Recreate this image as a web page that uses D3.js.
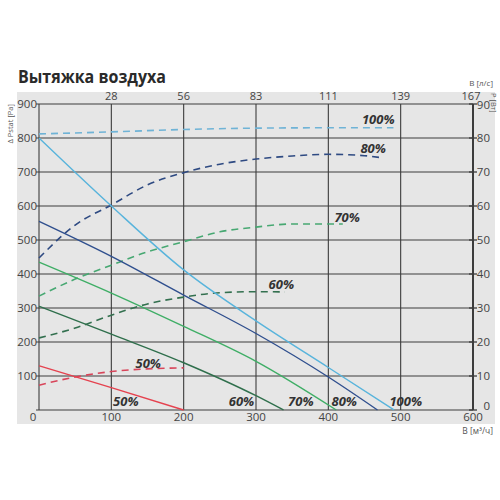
<!DOCTYPE html>
<html><head><meta charset="utf-8">
<script src="https://cdn.jsdelivr.net/npm/d3@7"></script>
<style>
body{margin:0;background:#fff;}
text{font-family:"Open Sans","DejaVu Sans",sans-serif;}
</style></head>
<body><svg id="c" width="500" height="500"></svg>
<script>
// ---- data ----
const title = "Вытяжка воздуха";
const flowTicks = [0,100,200,300,400,500,600];          // м³/ч
const topTickLabels = ["28","56","83","111","139","167"]; // л/с
const pressureTicks = [0,100,200,300,400,500,600,700,800,900];
const powerTicks = [0,10,20,30,40,50,60,70,80,90];

// pressure curves (Pa) vs flow (m3/h)
const p100Flow = [0,100,200,300,400,491];
const p100Pa   = [800,600,412,262,125,0];
const p80Flow  = [0,100,200,300,400,468];
const p80Pa    = [555,452,338,225,97,0];
const p70Flow  = [0,100,200,300,411];
const p70Pa    = [435,344,246,143,0];
const p60Flow  = [0,100,200,300,338];
const p60Pa    = [305,223,139,42,0];
const p50Flow  = [0,100,200];
const p50Pa    = [130,66,0];

// power curves (W) vs flow (m3/h)
const w100Flow = [0,100,200,300,400,490];
const w100W    = [81.2,81.8,82.5,82.9,83.0,83.0];
const w80Flow  = [0,50,100,150,200,250,300,350,400,450,470];
const w80W     = [44.7,54.4,60.3,66.2,69.8,72.3,73.8,74.7,75.2,74.8,74.3];
const w70Flow  = [0,50,100,150,200,250,300,350,420];
const w70W     = [33.5,38.5,42.6,46.5,49.5,52.4,53.8,54.7,54.7];
const w60Flow  = [0,50,100,150,200,250,300,340];
const w60W     = [21.2,24.1,27.9,31.2,33.2,34.5,34.8,34.7];
const w50Flow  = [0,50,100,150,200];
const w50W     = [7.3,9.7,11.3,12.1,12.4];

const seriesNames = ["100%","80%","70%","60%","50%"];

// ---- drawing ----
const svg = d3.select("#c");
const L=39, R=473, T=104, B=410;
const x = d3.scaleLinear().domain([0,600]).range([L,R]);
const y = d3.scaleLinear().domain([0,900]).range([B,T]);
const y2 = d3.scaleLinear().domain([0,90]).range([B,T]);

svg.append("rect").attr("x",17).attr("y",92).attr("width",478).attr("height",332).attr("fill","#e6e6e6");

svg.append("text").attr("x",18).attr("y",83).attr("font-size",17.5).attr("font-weight","bold")
  .attr("textLength",148).attr("lengthAdjust","spacingAndGlyphs")
  .attr("fill","#2a2a2a").text(title);

const gridColor="#3c3c3c";
svg.append("g").selectAll("line").data(pressureTicks).join("line")
  .attr("x1",L-3).attr("x2",R).attr("y1",d=>y(d)).attr("y2",d=>y(d))
  .attr("stroke",gridColor).attr("stroke-width",1.1);
svg.append("g").selectAll("line").data(flowTicks).join("line")
  .attr("x1",d=>x(d)).attr("x2",d=>x(d)).attr("y1",T).attr("y2",B)
  .attr("stroke",gridColor).attr("stroke-width",d=>d===600?2:1.1);
svg.append("g").selectAll("line").data(powerTicks).join("line")
  .attr("x1",R-4).attr("x2",R+4).attr("y1",d=>y2(d)).attr("y2",d=>y2(d))
  .attr("stroke",gridColor).attr("stroke-width",1.3);

const tickCol="#444", fs=11.5;
svg.append("g").selectAll("text").data(pressureTicks.filter(d=>d>0)).join("text")
  .attr("x",L-2).attr("y",d=>y(d)).attr("dy","0.35em").attr("text-anchor","end")
  .attr("font-size",fs).attr("fill",tickCol).text(d=>d);
svg.append("g").selectAll("text").data(flowTicks).join("text")
  .attr("x",d=>d===0?x(d)-6:x(d)).attr("y",421).attr("text-anchor","middle")
  .attr("font-size",fs).attr("fill",tickCol).text(d=>d);
svg.append("g").selectAll("text").data(topTickLabels).join("text")
  .attr("x",(d,i)=>x(flowTicks[i+1])-(i===5?2:0)).attr("y",100).attr("text-anchor","middle")
  .attr("font-size",11).attr("fill",tickCol).text(d=>d);
svg.append("g").selectAll("text").data(powerTicks).join("text")
  .attr("x",490).attr("y",d=>y2(d)).attr("dy",d=>d===0?"0.0em":d===90?"0.45em":"0.35em").attr("text-anchor","end")
  .attr("font-size",fs).attr("fill",tickCol).text(d=>d);

svg.append("text").attr("x",493).attr("y",86).attr("text-anchor","end")
  .attr("font-size",8).attr("fill","#555").text("B [л/с]");
svg.append("text").attr("x",493).attr("y",434).attr("text-anchor","end")
  .attr("font-size",8.5).attr("fill","#555").text("B [м³/ч]");
svg.append("text").attr("transform","translate(13,104) rotate(-90)").attr("text-anchor","end")
  .attr("font-size",7.5).attr("fill","#555").text("Δ Pstat [Pa]");
svg.append("text").attr("transform","translate(491,93) rotate(90)").attr("text-anchor","start")
  .attr("font-size",7.5).attr("fill","#555").text("P [Вт]");

const colors = {"100%":"#58b4dc","80%":"#2f4f8e","70%":"#3fae66","60%":"#2f6f4c","50%":"#e5424f"};
const dashColors = {"100%":"#6fb3d6","80%":"#2e4a82","70%":"#47a872","60%":"#33704f","50%":"#d8455a"};

const pressureSeries = [[p100Flow,p100Pa],[p80Flow,p80Pa],[p70Flow,p70Pa],[p60Flow,p60Pa],[p50Flow,p50Pa]];
const powerSeries = [[w100Flow,w100W],[w80Flow,w80W],[w70Flow,w70W],[w60Flow,w60W],[w50Flow,w50W]];

const lineP = d3.line().x(d=>x(d[0])).y(d=>y(d[1])).curve(d3.curveMonotoneX);
const lineW = d3.line().x(d=>x(d[0])).y(d=>y2(d[1])).curve(d3.curveMonotoneX);

powerSeries.forEach((s,i)=>{
  const pts = s[0].map((f,j)=>[f,s[1][j]]);
  svg.append("path").attr("d",lineW(pts)).attr("fill","none")
    .attr("stroke",dashColors[seriesNames[i]]).attr("stroke-width",1.6)
    .attr("stroke-dasharray","7,5");
});
pressureSeries.forEach((s,i)=>{
  const pts = s[0].map((f,j)=>[f,s[1][j]]);
  svg.append("path").attr("d",lineP(pts)).attr("fill","none")
    .attr("stroke",colors[seriesNames[i]]).attr("stroke-width",1.4);
});

const labStyle = sel=>sel.attr("font-size",13).attr("font-weight","bold").attr("font-style","italic").attr("fill","#333");
const powerLabelPos = [[469,84.1],[462,75.6],[426,55.3],[335,35.6],[151,12.4]];
powerLabelPos.forEach((p,i)=>{
  svg.append("text").attr("x",x(p[0])).attr("y",y2(p[1])).attr("text-anchor","middle")
    .call(labStyle).text(seriesNames[i]);
});
const pressLabelFlow = [507,422,362,280,120];
pressLabelFlow.forEach((f,i)=>{
  svg.append("text").attr("x",x(f)).attr("y",y(10)).attr("dy","-0.05em").attr("text-anchor","middle")
    .call(labStyle).text(seriesNames[i]);
});
</script></body></html>
